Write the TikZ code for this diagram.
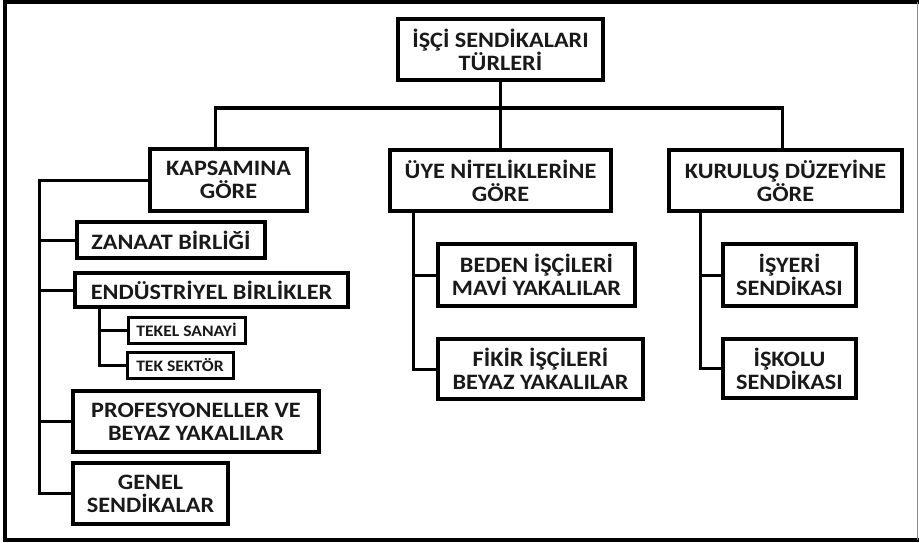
\documentclass[tikz,border=0pt]{standalone}
\usepackage{fontspec}
\setmainfont{Carlito}[FakeStretch=1.1]
\begin{document}
\begin{tikzpicture}[x=1pt,y=-1pt,
  box/.style={draw=black, line width=3.5pt, fill=white, inner sep=0pt, align=center,
    font=\fontsize{22}{23}\selectfont\bfseries, text=black!90},
  smallbox/.style={box, line width=3pt, font=\fontsize{16}{18}\selectfont\bfseries},
  conn/.style={line width=3pt, line cap=rect}]
\useasboundingbox (0,0) rectangle (919,543);
% frame
\draw[line width=4pt] (919,2) -- (5,2) -- (5,540) -- (919,540);
\draw[line width=1pt, black!45] (917.5,2) -- (917.5,540);

% nodes
\node[box, minimum width=205, minimum height=61] (root) at (500.5,49.5) {İŞÇİ SENDİKALARI\\TÜRLERİ};
\node[box, minimum width=157, minimum height=62] (kap) at (228.5,180) {KAPSAMINA\\GÖRE};
\node[box, minimum width=221, minimum height=61] (uye) at (500.5,180.5) {ÜYE NİTELİKLERİNE\\GÖRE};
\node[box, minimum width=233, minimum height=61] (kur) at (785.5,180.5) {KURULUŞ DÜZEYİNE\\GÖRE};

\node[box, minimum width=188, minimum height=36] (zan) at (171,240) {ZANAAT BİRLİĞİ};
\node[box, minimum width=273, minimum height=34] (end) at (211.5,290) {ENDÜSTRİYEL BİRLİKLER};
\node[smallbox, minimum width=117, minimum height=26] (tek) at (186.5,330) {TEKEL SANAYİ};
\node[smallbox, minimum width=106, minimum height=26] (sek) at (180,365) {TEK SEKTÖR};
\node[box, minimum width=246, minimum height=61] (pro) at (196,421.5) {PROFESYONELLER VE\\BEYAZ YAKALILAR};
\node[box, minimum width=155, minimum height=61] (gen) at (150.5,493.5) {GENEL\\SENDİKALAR};

\node[box, minimum width=197, minimum height=62] (bed) at (536.5,275) {BEDEN İŞÇİLERİ\\MAVİ YAKALILAR};
\node[box, minimum width=205, minimum height=60] (fik) at (540.5,369) {FİKİR İŞÇİLERİ\\BEYAZ YAKALILAR};

\node[box, minimum width=133, minimum height=62] (isy) at (789.5,275) {İŞYERİ\\SENDİKASI};
\node[box, minimum width=133, minimum height=59] (isk) at (789.5,368.5) {İŞKOLU\\SENDİKASI};

% connectors
\coordinate (bus) at (500,108);
\coordinate (lsp) at (39,0);
\draw[conn] (root.south) -- (uye.north);
\draw[conn] ([xshift=-13.5pt]kap.north) |- (bus) -| ([xshift=-3.5pt]kur.north);

\draw[conn] (kap.west) -| (lsp |- gen.west) -- (gen.west);
\draw[conn] (lsp |- zan.west) -- (zan.west);
\draw[conn] (lsp |- end.west) -- (end.west);
\draw[conn] (lsp |- pro.west) -- (pro.west);

\draw[conn] ([xshift=26pt]end.south west) |- (sek.west);
\draw[conn] ([xshift=26pt]end.south west |- tek.west) -- (tek.west);

\draw[conn] ([xshift=25pt]uye.south west) |- (fik.west);
\draw[conn] ([xshift=25pt]uye.south west |- bed.west) -- (bed.west);

\draw[conn] ([xshift=33pt]kur.south west) |- (isk.west);
\draw[conn] ([xshift=33pt]kur.south west |- isy.west) -- (isy.west);
\end{tikzpicture}
\end{document}
